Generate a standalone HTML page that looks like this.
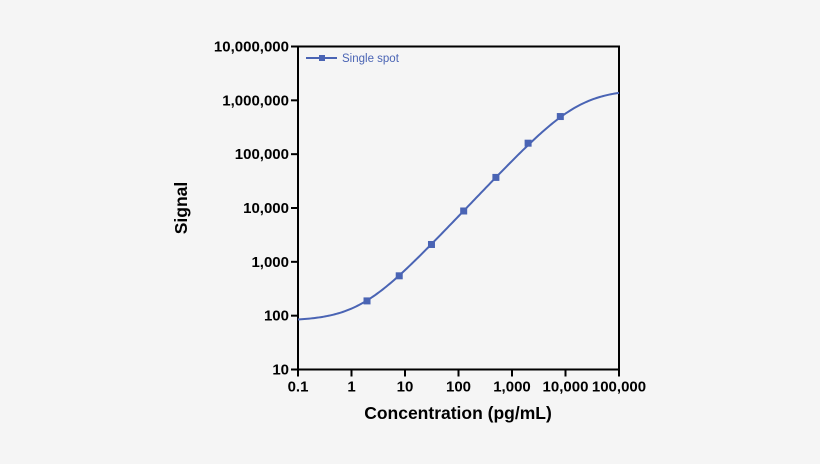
<!DOCTYPE html>
<html><head><meta charset="utf-8"><style>
body{margin:0;background:#f5f5f5;}
svg{display:block;font-family:"Liberation Sans",Arial,sans-serif;}
</style></head><body>
<svg id="chart" width="820" height="464">
<rect width="820" height="464" fill="#f5f5f5"/>
<g id="axes"></g>
<g id="series"></g>
<text x="458" y="419" text-anchor="middle" font-size="17.5" font-weight="bold">Concentration (pg/mL)</text>
<text transform="translate(187,208) rotate(-90)" text-anchor="middle" font-size="17.5" font-weight="bold">Signal</text>
<g>
<line x1="306" y1="58" x2="337" y2="58" stroke="#4a64b4" stroke-width="2"/>
<rect x="319" y="55" width="6" height="6" fill="#4a64b4"/>
<text x="342" y="62" font-size="11.5" fill="#4a64b4">Single spot</text>
</g>
</svg>
<script>
const concentrations=[1.95,7.8,31.25,125,500,2000,8000];
const signals=[188,550,2100,8800,37000,160000,500000];
const xTicks=[0.1,1,10,100,1000,10000,100000];
const xTickLabels=["0.1","1","10","100","1,000","10,000","100,000"];
const yTicks=[10,100,1000,10000,100000,1000000,10000000];
const yTickLabels=["10","100","1,000","10,000","100,000","1,000,000","10,000,000"];
const fitBottom=80, fitTop=1600000, fitEC50=17700, fitHill=1.05;

const X0=298,X1=619,Y0=369.5,Y1=46.5;
const xs=v=>X0+(Math.log10(v)+1)/6*(X1-X0);
const ys=v=>Y0-(Math.log10(v)-1)/6*(Y0-Y1);
const NS="http://www.w3.org/2000/svg";
const mk=(t,a,p)=>{const e=document.createElementNS(NS,t);for(const k in a)e.setAttribute(k,a[k]);p.appendChild(e);return e;};
const axes=document.getElementById('axes');
const frame=mk('rect',{x:X0,y:Y1,width:X1-X0,height:Y0-Y1,fill:'none',stroke:'#000','stroke-width':2},axes);


xTicks.forEach((v,i)=>{
 const x=xs(v);
 const t=mk('line',{x1:x,y1:Y0,x2:x,y2:Y0+7,stroke:'#000','stroke-width':2},axes);
 
 
 const l=mk('text',{x:x,y:Y0+22,'text-anchor':'middle','font-size':15,'font-weight':'bold'},axes);
 l.textContent=xTickLabels[i];
 
 
});
yTicks.forEach((v,i)=>{
 const y=ys(v);
 const t=mk('line',{x1:X0-7,y1:y,x2:X0,y2:y,stroke:'#000','stroke-width':2},axes);
 
 
 const l=mk('text',{x:X0-9,y:y+5,'text-anchor':'end','font-size':15,'font-weight':'bold'},axes);
 l.textContent=yTickLabels[i];
 
 
});
const ser=document.getElementById('series');
let d='';
for(let i=0;i<=200;i++){
 const lx=-1+6*i/200, c=Math.pow(10,lx);
 const s=fitBottom+(fitTop-fitBottom)/(1+Math.pow(fitEC50/c,fitHill));
 d+=(i?'L':'M')+xs(c).toFixed(2)+','+ys(s).toFixed(2);
}
const curve=mk('path',{d:d,fill:'none',stroke:'#4a64b4','stroke-width':2},ser);


concentrations.forEach((c,i)=>{
 const p=mk('rect',{x:xs(c)-3.5,y:ys(signals[i])-3.5,width:7,height:7,fill:'#4a64b4'},ser);
 
 
});
</script>
</body></html>
